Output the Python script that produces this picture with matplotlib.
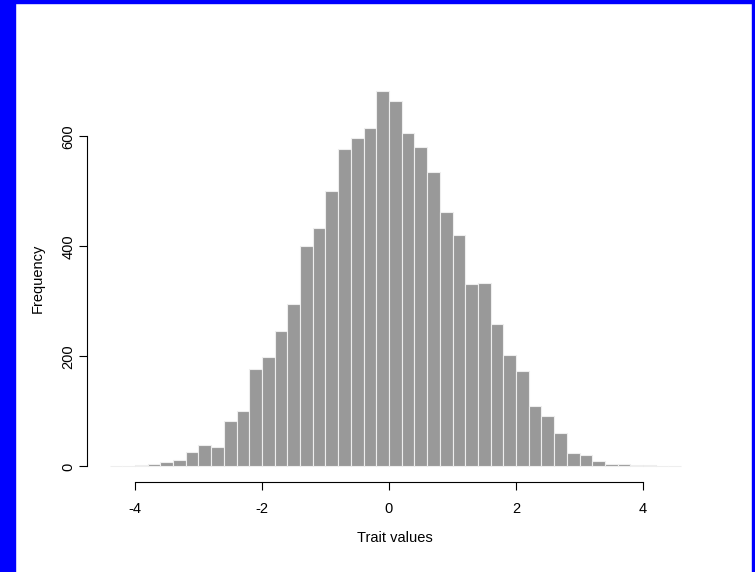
import numpy as np
import matplotlib.pyplot as plt
from matplotlib.patches import Rectangle

plt.rcParams['font.family'] = ['Liberation Sans', 'DejaVu Sans']

# histogram of trait values, bins of width 0.2 starting at -4.4
bin_start = -4.4
bin_width = 0.2
counts = [1, 1, 3, 5, 8, 12, 27, 39, 36, 82, 100,
          178, 199, 246, 296, 401, 433, 501, 577, 597, 616,
          683, 665, 607, 580, 535, 462, 421, 331, 333, 259,
          203, 173, 110, 92, 61, 24, 20, 10, 5, 4,
          2, 2, 1, 1]
x_ticks = [-4, -2, 0, 2, 4]
y_ticks = [0, 200, 400, 600]

W, H = 755, 572
left_edges = bin_start + bin_width * np.arange(len(counts))
x_lo, x_hi = left_edges[0], left_edges[-1] + bin_width
pad_x = 0.04 * (x_hi - x_lo)
ymax = max(counts)

fig = plt.figure(figsize=(W / 100, H / 100), dpi=100)
# plot region in pixels: left 86.7, right 704, top 75.8, bottom 481.5
ax = fig.add_axes([86.7 / W, (H - 481.5) / H, (704 - 86.7) / W, (481.5 - 75.8) / H])

ax.bar(left_edges, counts, width=bin_width, align='edge',
       color='#999999', edgecolor='#eeeeee', linewidth=0.8)

ax.set_xlim(x_lo - pad_x, x_hi + pad_x)
ax.set_ylim(-0.04 * ymax, 1.04 * ymax)

for s in ['top', 'right']:
    ax.spines[s].set_visible(False)
ax.spines['left'].set_bounds(y_ticks[0], y_ticks[-1])
ax.spines['bottom'].set_bounds(x_ticks[0], x_ticks[-1])
for s in ['left', 'bottom']:
    ax.spines[s].set_linewidth(0.8)
    ax.spines[s].set_color('black')

ax.set_xticks(x_ticks)
ax.set_xticklabels([str(v) for v in x_ticks])
ax.set_yticks(y_ticks)
ax.set_yticklabels([str(v) for v in y_ticks], rotation=90, va='center')
ax.tick_params(axis='both', length=6, width=0.8, labelsize=10.5, colors='black')
ax.tick_params(axis='x', pad=8.5)
ax.tick_params(axis='y', pad=2)

ax.set_xlabel('Trait values', fontsize=10.5, labelpad=11)
ax.set_ylabel('Frequency', fontsize=10.5, labelpad=12)

# blue frame around the figure
blue = '#0000ff'
fig.patches.append(Rectangle((0, 0), 15 / W, 1, transform=fig.transFigure, color=blue, zorder=10))
fig.patches.append(Rectangle((0, 1 - 3 / H), 1, 3 / H, transform=fig.transFigure, color=blue, zorder=10))
fig.patches.append(Rectangle((1 - 3 / W, 0), 3 / W, 1, transform=fig.transFigure, color=blue, zorder=10))

fig.savefig('out.png', dpi=100)
